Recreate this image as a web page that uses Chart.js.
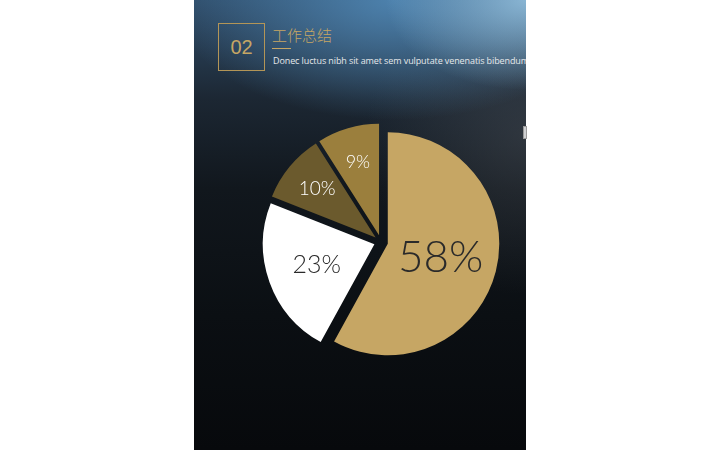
<!DOCTYPE html>
<html>
<head>
<meta charset="utf-8">
<script src="https://cdn.jsdelivr.net/npm/chart.js@4"></script>
<style>
  html, body { margin: 0; padding: 0; background: #fff; width: 720px; height: 450px; overflow: hidden; }
  #panel {
    position: absolute; left: 194px; top: 0; width: 332px; height: 450px; overflow: hidden;
    background:
      radial-gradient(ellipse 140px 90px at 100% 0%, rgba(150,195,225,0.85), rgba(150,195,225,0) 100%),
      radial-gradient(ellipse 220px 120px at 60% 0%, rgba(80,135,180,0.9), rgba(80,135,180,0) 100%),
      radial-gradient(ellipse 160px 160px at 100% 30%, rgba(70,75,82,0.5), rgba(70,75,82,0) 100%),
      linear-gradient(to bottom, #2f4d6a 0%, #1c2733 22%, #11171d 42%, #0b0f13 70%, #07090c 100%);
  }
  #box {
    position: absolute; left: 24px; top: 23px; width: 45px; height: 46px;
    border: 1px solid #b39557; color: #c6a664;
    font: 20px "Liberation Sans", Arial, sans-serif; text-align: center; line-height: 46px;
  }
  #title {
    position: absolute; left: 78px; top: 24px; color: #c6a664;
    font: 300 15px "Noto Sans CJK SC", sans-serif; white-space: nowrap;
  }
  #rule { position: absolute; left: 78px; top: 48px; width: 19px; height: 1px; background: #c6a664; }
  #sub {
    position: absolute; left: 79px; top: 54px; color: #e6e8ea;
    font: 9px "Open Sans", sans-serif; white-space: nowrap; letter-spacing: -0.1px;
  }
  #scroll {
    position: absolute; left: 523px; top: 126px; width: 4px; height: 13px;
    background: #cfd0d2; border: 1px solid #9a9a9a; box-sizing: border-box;
  }
  #wrap { position: absolute; left: 231px; top: 92px; width: 300px; height: 300px; }
</style>
</head>
<body>
<div id="panel">
  <div id="box">02</div>
  <div id="title">工作总结</div>
  <div id="rule"></div>
  <div id="sub">Donec luctus nibh sit amet sem vulputate venenatis bibendum</div>
</div>
<div id="scroll"></div>
<div id="wrap"><canvas id="myChart" width="300" height="300"></canvas></div>
<script>
const categories = ["一", "二", "三", "四"];
const values = [58, 23, 10, 9];
const sliceColors = ["#c6a664", "#ffffff", "#6b5a2d", "#9b7f3d"];
const textColors = ["#2a2a2a", "#2a2a2a", "#ffffff", "#ffffff"];
const fontSizes = [44, 25, 19, 18];
const labelRadius = [0.49, 0.55, 0.68, 0.68];
const explode = 7; // 扇区分离距离

// 把每个扇区沿中线方向推出去（不改变半径）
const explodeSlices = {
  id: "explodeSlices",
  afterUpdate(chart) {
    chart.getDatasetMeta(0).data.forEach(function (arc) {
      const mid = (arc.startAngle + arc.endAngle) / 2;
      arc.x += Math.cos(mid) * explode;
      arc.y += Math.sin(mid) * explode;
    });
  }
};

// 扇区中的百分比文字
const pieLabels = {
  id: "pieLabels",
  afterDatasetsDraw(chart) {
    const ctx = chart.ctx;
    chart.getDatasetMeta(0).data.forEach(function (arc, i) {
      const mid = (arc.startAngle + arc.endAngle) / 2;
      const r = arc.outerRadius * labelRadius[i];
      const x = arc.x + Math.cos(mid) * r;
      const y = arc.y + Math.sin(mid) * r;
      ctx.save();
      ctx.fillStyle = textColors[i];
      ctx.font = "300 " + fontSizes[i] + "px Lato, 'DejaVu Sans', sans-serif";
      ctx.textAlign = "center";
      ctx.textBaseline = "middle";
      ctx.fillText(values[i] + "%", x, y);
      ctx.restore();
    });
  }
};

document.addEventListener("DOMContentLoaded", function () {
  var ctx = document.getElementById("myChart").getContext("2d");
  new Chart(ctx, {
    type: "pie",
    data: {
      labels: categories,
      datasets: [{
        data: values,
        backgroundColor: sliceColors,
        borderWidth: 0
      }]
    },
    options: {
      responsive: false,
      animation: false,
      radius: 111.5,
      layout: { padding: 0 },
      plugins: { legend: { display: false }, tooltip: { enabled: false } }
    },
    plugins: [explodeSlices, pieLabels]
  });
});
</script>
</body>
</html>
